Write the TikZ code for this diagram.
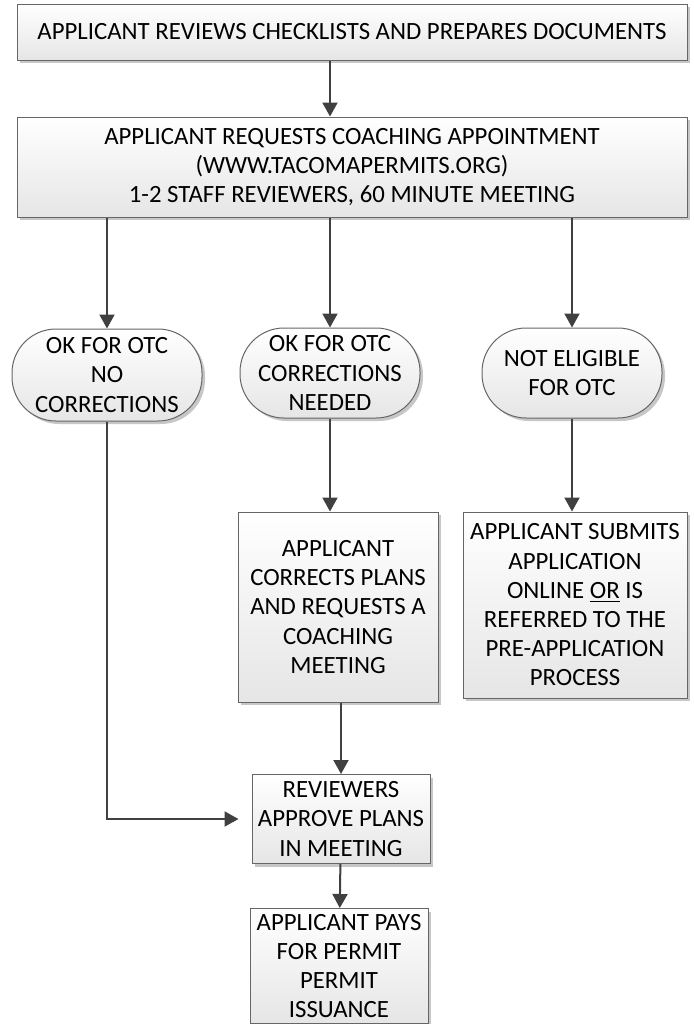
\documentclass[tikz,border=0pt]{standalone}
\usepackage{fontspec}
\setmainfont{Carlito}
\usetikzlibrary{arrows.meta,shadows}

\begin{document}
\begin{tikzpicture}[x=0.5pt,y=-0.5pt,
  box/.style={rectangle,draw=black!60,line width=0.5pt,top color=white,bottom color=black!10,
    drop shadow={shadow xshift=1.5pt,shadow yshift=-1.5pt,fill=black!22,opacity=1},
    align=center,inner sep=0pt,font=\fontsize{12.4}{14.6}\selectfont},
  term/.style={box,rounded corners=22pt},
  flow/.style={-{Triangle[length=7pt,width=7.5pt]},line width=1pt,draw=black!75}]

\useasboundingbox (0,0) rectangle (694,1024);

\path (352,32) node[box,minimum width=335pt,minimum height=28pt](check){APPLICANT REVIEWS CHECKLISTS AND PREPARES DOCUMENTS};
\path (352,167) node[box,minimum width=335pt,minimum height=50pt](coach){APPLICANT REQUESTS COACHING APPOINTMENT\\(WWW.TACOMAPERMITS.ORG)\\1-2 STAFF REVIEWERS, 60 MINUTE MEETING};

\path (107,375) node[term,minimum width=95pt,minimum height=46pt](nocorr){OK FOR OTC\\NO\\CORRECTIONS};
\path (330,373) node[term,minimum width=90pt,minimum height=45pt](corrneed){OK FOR OTC\\CORRECTIONS\\NEEDED};
\path (572,373) node[term,minimum width=90pt,minimum height=45pt](noteligible){NOT ELIGIBLE\\FOR OTC};

\path (338,607) node[box,minimum width=100pt,minimum height=95pt](correct){APPLICANT\\CORRECTS PLANS\\AND REQUESTS A\\COACHING\\MEETING};
\path (575,605) node[box,minimum width=112pt,minimum height=93pt](submit){APPLICANT SUBMITS\\APPLICATION\\ONLINE \underline{OR} IS\\REFERRED TO THE\\PRE-APPLICATION\\PROCESS};

\path (341,819) node[box,minimum width=89pt,minimum height=44.5pt](approve){REVIEWERS\\APPROVE PLANS\\IN MEETING};
\path (339,966) node[box,minimum width=89pt,minimum height=57.5pt](pay){APPLICANT PAYS\\FOR PERMIT\\PERMIT\\ISSUANCE};

\draw[flow] (check.south -| corrneed) -- (coach.north -| corrneed);
\draw[flow] (coach.south -| nocorr) -- (nocorr);
\draw[flow] (coach.south -| corrneed) -- (corrneed);
\draw[flow] (coach.south -| noteligible) -- (noteligible);
\draw[flow] (corrneed) -- (corrneed |- correct.north);
\draw[flow] (noteligible) -- (noteligible |- submit.north);
\draw[flow] (correct.south -| approve) -- (approve);
\draw[flow] (approve) -- (pay);
\draw[flow,shorten >=6.5pt] (nocorr) |- (approve);

\end{tikzpicture}
\end{document}
